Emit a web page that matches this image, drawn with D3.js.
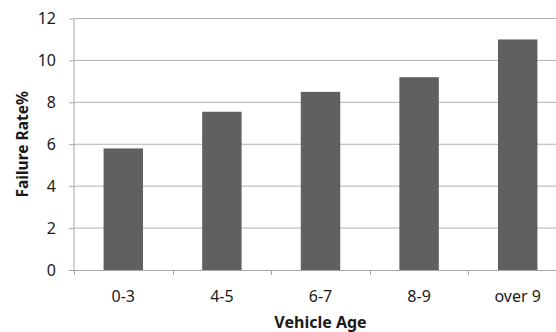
<!DOCTYPE html>
<html>
<head>
<meta charset="utf-8">
<script src="https://cdn.jsdelivr.net/npm/d3@7"></script>
<style>
  html, body { margin: 0; padding: 0; background: #fff; }
  svg { display: block; }
  text { font-family: "Noto Sans", "DejaVu Sans", sans-serif; fill: #1a1a1a; }
</style>
</head>
<body>
<svg id="chart" width="556" height="332"></svg>
<script>
const categories = ["0-3", "4-5", "6-7", "8-9", "over 9"];
const failureRates = [5.8, 7.55, 8.5, 9.2, 11.0];
const yTicks = [0, 2, 4, 6, 8, 10, 12];
const xTitle = "Vehicle Age";
const yTitle = "Failure Rate%";

(function () {
const svg = d3.select("#chart");
const pLeft = 74, pRight = 567, pTop = 18.5, pBottom = 270;

const x = d3.scaleBand().domain(categories).range([pLeft, pRight])
  .paddingInner(0.6).paddingOuter(0.3);
const y = d3.scaleLinear().domain([0, 12]).range([pBottom, pTop]);

// gridlines
svg.append("g").selectAll("line").data(yTicks.filter(d => d > 0)).join("line")
  .attr("x1", pLeft).attr("x2", pRight)
  .attr("y1", d => y(d)).attr("y2", d => y(d))
  .attr("stroke", "#b3b3b3").attr("stroke-width", 1);

// bars
svg.append("g").selectAll("rect").data(categories).join("rect")
  .attr("x", d => x(d))
  .attr("width", x.bandwidth())
  .attr("y", (d, i) => y(failureRates[i]))
  .attr("height", (d, i) => y(0) - y(failureRates[i]))
  .attr("fill", "#606060");

// y axis
const yAxis = svg.append("g").attr("transform", `translate(${pLeft},0)`)
  .call(d3.axisLeft(y).tickValues(yTicks).tickSize(5).tickPadding(13));
yAxis.select(".domain").attr("stroke", "#a6a6a6").attr("d", `M-0,${pBottom}V${pTop}`);
yAxis.selectAll(".tick line").attr("stroke", "#a6a6a6");
yAxis.selectAll(".tick text").attr("font-size", 16).attr("fill", "#1a1a1a")
  .attr("font-family", "Noto Sans, DejaVu Sans, sans-serif");

// x axis
const boundaries = categories.map(c => x(c) - x.step() * x.paddingInner() / 2);
boundaries[0] = pLeft;
const xg = svg.append("g");
xg.append("line").attr("x1", pLeft).attr("x2", pRight).attr("y1", pBottom + 0.5).attr("y2", pBottom + 0.5)
  .attr("stroke", "#a6a6a6");
xg.selectAll("line.tk").data(boundaries).join("line").attr("class", "tk")
  .attr("x1", d => Math.round(d) + 0.5).attr("x2", d => Math.round(d) + 0.5)
  .attr("y1", pBottom).attr("y2", pBottom + 5)
  .attr("stroke", "#a6a6a6");
xg.selectAll("text").data(categories).join("text")
  .attr("x", d => x(d) + x.bandwidth() / 2)
  .attr("y", 302)
  .attr("text-anchor", "middle")
  .attr("font-size", 16)
  .text(d => d);

// titles
svg.append("text")
  .attr("x", (pLeft + pRight) / 2).attr("y", 328)
  .attr("text-anchor", "middle").attr("font-size", 16).attr("font-weight", "bold")
  .text(xTitle);
svg.append("text")
  .attr("transform", `translate(28,${(pTop + pBottom) / 2}) rotate(-90)`)
  .attr("text-anchor", "middle").attr("font-size", 15.5).attr("font-weight", "bold")
  .text(yTitle);
})();
</script>
</body>
</html>
